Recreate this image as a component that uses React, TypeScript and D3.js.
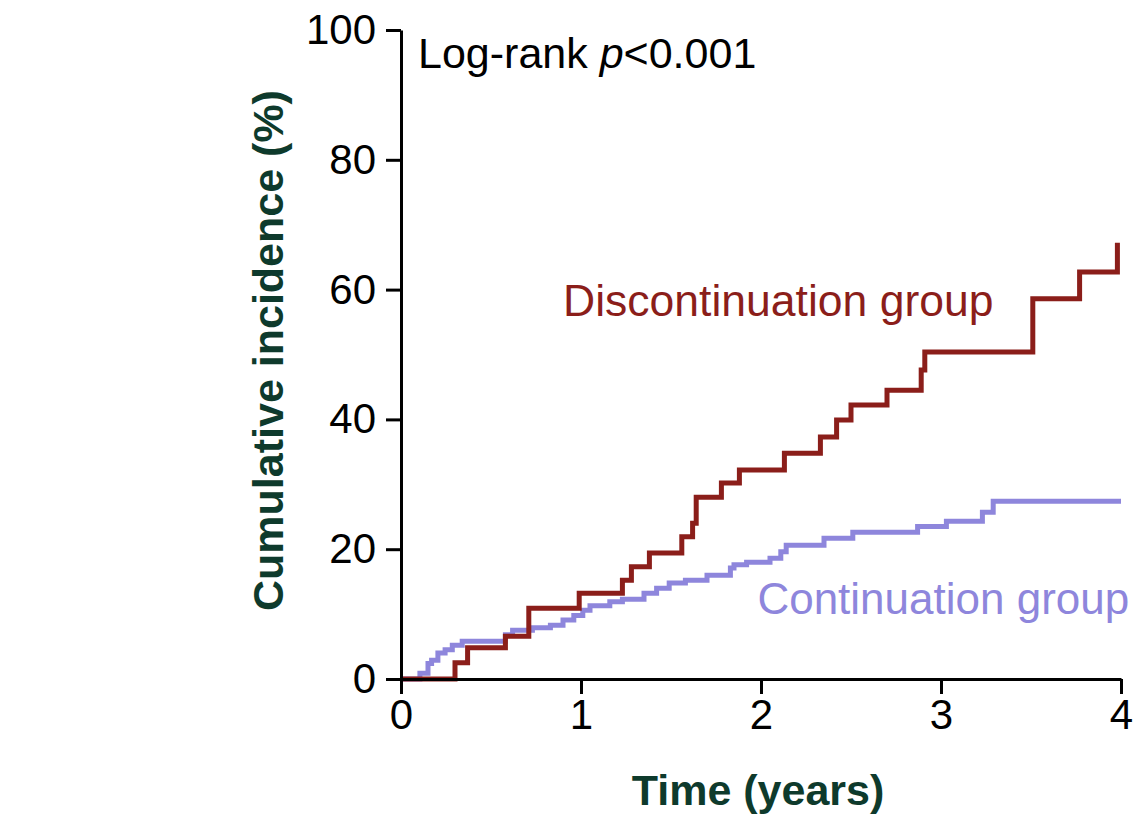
import React, { useEffect, useRef } from "react";
import { axisBottom, axisLeft, curveStepAfter, format, line, scaleLinear, select } from "d3";

const yearTicks = [0, 1, 2, 3, 4];
const incidenceTicks = [0, 20, 40, 60, 80, 100];

// Discontinuation group
const discTime = [0, 0.3, 0.37, 0.58, 0.71, 0.99, 1.23, 1.28, 1.38, 1.56, 1.62, 1.64, 1.78, 1.88, 2.13, 2.33, 2.42, 2.5, 2.7, 2.89, 2.91, 3.51, 3.77, 3.98];
const discPct = [0, 2.5, 4.8, 6.6, 10.9, 13.2, 15.2, 17.3, 19.4, 21.9, 24.0, 28.0, 30.2, 32.2, 34.8, 37.3, 39.9, 42.2, 44.5, 47.6, 50.4, 58.6, 62.7, 67.2];

// Continuation group
const contTime = [0, 0.105, 0.15, 0.17, 0.205, 0.245, 0.285, 0.34, 0.58, 0.62, 0.73, 0.83, 0.9, 0.96, 1.01, 1.05, 1.16, 1.23, 1.35, 1.42, 1.49, 1.58, 1.7, 1.83, 1.85, 1.92, 2.05, 2.11, 2.14, 2.35, 2.51, 2.87, 3.03, 3.23, 3.29, 4.0];
const contPct = [0, 0.9, 2.4, 2.9, 4.0, 4.5, 5.2, 5.8, 6.8, 7.5, 7.9, 8.3, 9.1, 9.8, 10.6, 11.3, 11.9, 12.3, 13.2, 14.0, 14.8, 15.2, 16.0, 17.1, 17.6, 18.0, 18.6, 19.6, 20.6, 21.7, 22.6, 23.5, 24.3, 25.7, 27.4, 27.4];

const RED = "#8b1e1a";
const PURPLE = "#8e86dc";
const TITLE = "#0e3a2c";
const FONT = "'Liberation Sans', Arial, sans-serif";

function AxisBottom({ scale, transform }) {
  const ref = useRef(null);
  useEffect(() => {
    if (ref.current) {
      const g = select(ref.current);
      g.call(axisBottom(scale).tickValues(yearTicks).tickFormat(format("d")).tickSize(15).tickSizeOuter(0).tickPadding(5));
      g.select(".domain").attr("stroke-width", 3);
      g.selectAll(".tick line").attr("stroke-width", 3);
      g.selectAll("text").style("font-size", "42px").style("font-family", FONT).attr("fill", "#000");
    }
  }, [scale]);
  return <g ref={ref} transform={transform} />;
}

function AxisLeft({ scale }) {
  const ref = useRef(null);
  useEffect(() => {
    if (ref.current) {
      const g = select(ref.current);
      g.call(axisLeft(scale).tickValues(incidenceTicks).tickFormat(format("d")).tickSize(15).tickSizeOuter(0).tickPadding(10));
      g.select(".domain").attr("stroke-width", 3);
      g.selectAll(".tick line").attr("stroke-width", 3);
      g.selectAll("text").style("font-size", "42px").style("font-family", FONT).attr("fill", "#000");
    }
  }, [scale]);
  return <g ref={ref} />;
}

export default function App() {
  const margin = { top: 30, left: 401 };
  const width = 720;
  const height = 649;

  const x = scaleLinear().domain([0, 4]).range([0, width]);
  const y = scaleLinear().domain([0, 100]).range([height, 0]);

  const step = line<[number, number]>()
    .x((d) => x(d[0]))
    .y((d) => y(d[1]))
    .curve(curveStepAfter);

  const disc = discTime.map((t, i) => [t, discPct[i]] as [number, number]);
  const cont = contTime.map((t, i) => [t, contPct[i]] as [number, number]);

  return (
    <svg width={1147} height={819} style={{ position: "absolute", left: 0, top: 0, background: "#fff" }}>
      <g transform={`translate(${margin.left}, ${margin.top})`}>
        <path d={step(cont) ?? ""} fill="none" stroke={PURPLE} strokeWidth={5} />
        <path d={step(disc) ?? ""} fill="none" stroke={RED} strokeWidth={5} />
        <AxisBottom scale={x} transform={`translate(0, ${height})`} />
        <AxisLeft scale={y} />
        <text x={17} y={38} fontSize={43} fontFamily={FONT} fill="#000">
          Log-rank <tspan fontStyle="italic">p</tspan>&lt;0.001
        </text>
        <text x={x(0.9)} y={286} fontSize={44.5} fontFamily={FONT} fill={RED}>
          Discontinuation group
        </text>
        <text x={x(1.98)} y={584} fontSize={44} fontFamily={FONT} fill={PURPLE}>
          Continuation group
        </text>
        <text
          transform={`translate(-118, ${height / 2 - 4}) rotate(-90)`}
          textAnchor="middle"
          fontSize={43}
          fontWeight="bold"
          fontFamily={FONT}
          fill={TITLE}
        >
          Cumulative incidence (%)
        </text>
        <text x={x(2) - 3} y={775} textAnchor="middle" fontSize={43} fontWeight="bold" fontFamily={FONT} fill={TITLE}>
          Time (years)
        </text>
      </g>
    </svg>
  );
}
